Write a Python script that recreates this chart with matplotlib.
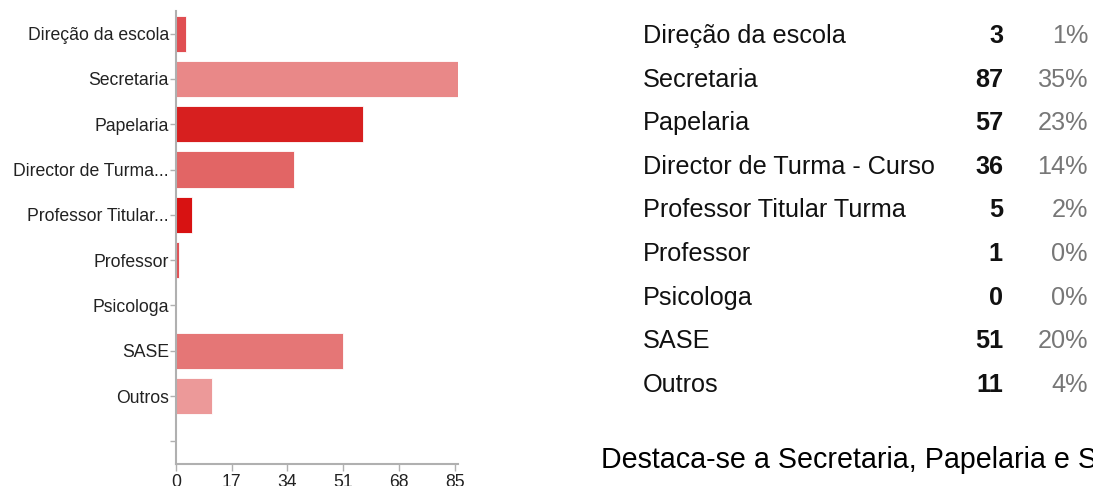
import matplotlib

matplotlib.use("Agg")
import matplotlib.pyplot as plt

plt.rcParams["font.family"] = ["Liberation Sans", "DejaVu Sans"]

# Survey answers, top to bottom as drawn.
bar_labels = ["Direção da escola", "Secretaria", "Papelaria", "Director de Turma...",
              "Professor Titular...", "Professor", "Psicologa", "SASE", "Outros", ""]
table_labels = ["Direção da escola", "Secretaria", "Papelaria", "Director de Turma - Curso",
                "Professor Titular Turma", "Professor", "Psicologa", "SASE", "Outros"]
counts = [3, 87, 57, 36, 5, 1, 0, 51, 11]
percents = ["1%", "35%", "23%", "14%", "2%", "0%", "0%", "20%", "4%"]
bar_colors = ["#e04e52", "#e98888", "#d71f1f", "#e26565", "#d81212",
              "#e05256", "#e05256", "#e57676", "#ec9999"]
x_ticks = [0, 17, 34, 51, 68, 85]
note = "Destaca-se a Secretaria, Papelaria e SASE"

fig = plt.figure(figsize=(10.93, 4.86), dpi=100)
ax = fig.add_axes([0.161, 0.0453, 0.258, 0.932])

rows = list(range(len(bar_labels)))
ax.barh(rows[:len(counts)], counts, height=0.8, color=bar_colors,
        edgecolor="#ffffff", linewidth=0.6)
ax.set_xlim(0, 86)
ax.set_ylim(len(bar_labels) - 0.5, -0.5)
ax.set_yticks(rows)
ax.set_yticklabels(bar_labels)
ax.set_xticks(x_ticks)
for side in ("top", "right"):
    ax.spines[side].set_visible(False)
for side in ("left", "bottom"):
    ax.spines[side].set_color("#b0b0b0")
    ax.spines[side].set_linewidth(1.5)
ax.tick_params(axis="y", length=4, width=1, color="#b0b0b0", pad=1,
               labelsize=12.7, labelcolor="#222222")
ax.tick_params(axis="x", length=5, width=1, color="#b0b0b0", pad=2,
               labelsize=12.7, labelcolor="#222222")

# Count table on the right.
row_y0, row_step = 36, 43.6
for i, (name, n, pct) in enumerate(zip(table_labels, counts, percents)):
    y = 1 - (row_y0 + i * row_step) / 486
    fig.text(643 / 1093, y, name, fontsize=18.2, color="#111111", va="center", ha="left")
    fig.text(1003 / 1093, y, str(n), fontsize=18.2, color="#111111", va="center",
             ha="right", fontweight="bold")
    fig.text(1088 / 1093, y, pct, fontsize=18.2, color="#777777", va="center", ha="right")

fig.text(601 / 1093, 1 - 460 / 486, note, fontsize=20.6, color="#000000", va="center", ha="left")

fig.savefig("out.png", dpi=100)
plt.close(fig)
